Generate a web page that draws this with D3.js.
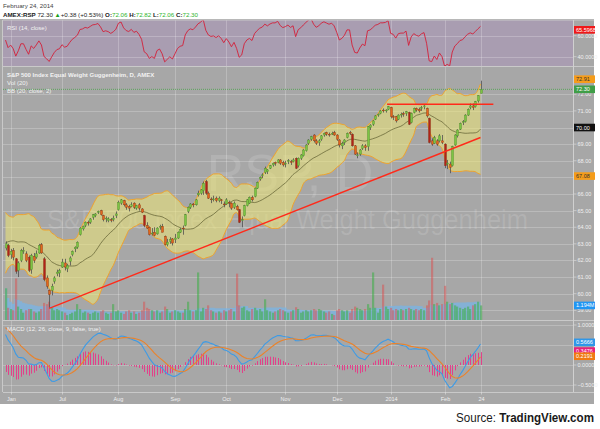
<!DOCTYPE html>
<html><head><meta charset="utf-8">
<script src="https://cdn.jsdelivr.net/npm/d3@7"></script>
<style>body{margin:0;background:#fff}svg{display:block;font-family:"Liberation Sans",Arial,sans-serif}</style>
</head><body><svg id="c" width="600" height="429"></svg>
<script>
// ---------- DATA ----------
// history before the visible range (needed for indicator warm-up only)
const priorCloses=[59.6,59.5,59.8,59.4,59.5,58.9,59.0,58.7,59.1,59.3,59.9,60.1,59.9,58.5,59.2,58.5,58.2,58.7,59.0,59.6,59.7,60.0,60.0,60.4,60.7,60.2,60.9,61.7,61.9,62.2,62.5,62.4,62.7,62.8,63.5,63.9,63.6,64.2,64.3,64.4,63.7,63.5,63.5,63.7,62.75];
const opens=[62.75,62.9,62.35,62.6,62.1,61.4,62.0,62.55,62.4,62.2,61.45,62.25,62.2,62.45,62.95,62.1,60.95,60.2,60.2,60.75,61.2,61.25,61.6,61.85,61.5,61.95,62.35,62.7,62.8,63.55,63.9,64.1,64.3,64.3,64.6,64.7,64.9,65.0,64.7,64.5,64.4,64.45,64.45,64.7,65.05,65.45,65.6,65.35,65.25,65.25,65.45,65.15,65.35,65.1,64.7,64.1,64.0,63.6,63.7,63.6,64.05,64.05,63.45,62.95,63.15,63.3,63.25,63.35,63.7,63.95,64.1,64.95,65.2,65.4,65.35,65.95,66.05,66.2,66.75,66.05,65.7,65.65,65.75,65.6,65.65,65.4,65.4,65.5,65.45,65.2,65.25,65.05,64.4,64.7,65.3,65.45,65.8,65.85,66.35,66.9,67.1,67.3,67.35,67.55,67.75,67.9,67.9,68.05,67.9,67.85,67.95,67.95,67.95,68.15,67.7,68.15,68.3,68.6,69.05,69.3,69.55,69.2,69.1,69.3,69.55,69.7,69.6,69.6,69.7,69.55,69.25,68.9,69.1,69.4,69.7,69.6,68.9,68.35,68.4,68.75,68.9,68.85,70.0,70.2,70.5,70.75,70.85,71.05,71.0,71.1,71.2,70.65,70.65,70.5,70.75,70.85,70.85,70.9,70.3,70.9,71.15,71.1,71.15,71.25,71.15,70.55,69.2,69.05,69.2,69.2,69.2,69.0,67.8,67.8,67.7,68.95,69.5,69.9,70.3,70.35,70.75,71.2,71.3,71.25,71.6,72.06];
const highs=[63.15,63.0,62.7,62.75,62.15,61.95,62.7,62.8,62.55,62.3,62.4,62.45,62.6,63.0,63.05,62.2,61.1,60.25,60.6,61.05,61.45,61.5,62.1,62.1,61.8,62.25,62.6,62.85,63.15,64.0,64.1,64.35,64.4,64.55,64.8,64.85,65.0,65.05,64.75,64.65,64.6,64.55,64.7,64.95,65.6,65.7,65.65,65.45,65.35,65.5,65.5,65.35,65.45,65.15,64.75,64.3,64.05,63.95,64.0,64.0,64.15,64.2,63.5,63.3,63.4,63.35,63.6,63.75,63.95,64.1,64.8,65.25,65.45,65.45,65.7,66.2,66.3,66.75,66.85,66.15,65.8,65.9,65.85,65.85,65.7,65.55,65.75,65.6,65.5,65.55,65.35,65.1,64.65,65.35,65.7,65.85,65.9,66.4,66.75,67.05,67.25,67.65,67.5,67.75,67.9,67.95,68.1,68.1,68.0,68.0,68.1,68.05,68.15,68.2,68.2,68.4,68.7,69.0,69.3,69.5,69.6,69.3,69.3,69.55,69.7,69.75,69.7,69.75,69.8,69.6,69.3,69.15,69.3,69.7,69.8,69.65,68.95,68.5,68.7,69.0,69.0,70.1,70.2,70.45,70.75,70.85,71.05,71.15,71.1,71.3,71.25,70.75,70.7,70.8,70.9,70.95,71.0,70.95,70.9,71.2,71.2,71.2,71.3,71.35,71.2,70.6,69.35,69.5,69.3,69.6,69.55,69.05,68.05,67.95,68.9,69.6,69.9,70.3,70.45,70.8,71.15,71.45,71.45,71.6,71.95,72.82];
const lows=[62.6,62.2,62.1,62.0,61.2,61.0,61.9,62.4,61.9,61.3,61.2,61.85,62.1,62.4,62.4,60.75,60.3,59.15,59.9,60.6,61.05,61.0,61.55,61.4,61.3,61.7,62.25,62.5,62.7,63.5,63.8,64.0,64.1,64.2,64.45,64.6,64.8,64.7,64.35,64.3,64.3,64.3,64.35,64.55,65.0,65.35,65.25,65.05,64.95,65.2,65.1,65.05,65.0,64.85,64.0,63.9,63.5,63.5,63.45,63.55,63.85,63.7,62.9,62.85,63.0,62.9,63.05,63.3,63.65,63.55,64.05,64.85,65.1,65.2,65.3,65.85,65.95,65.95,65.95,65.7,65.45,65.55,65.5,65.5,65.4,65.2,65.35,65.2,65.05,65.1,65.0,64.25,64.0,64.65,65.25,65.4,65.55,65.8,66.3,66.8,66.95,67.2,67.2,67.5,67.65,67.7,67.85,67.75,67.65,67.6,67.8,67.75,67.9,67.5,67.6,68.05,68.25,68.55,68.95,69.2,69.1,68.95,68.9,69.2,69.45,69.5,69.45,69.55,69.5,69.2,68.8,68.7,68.95,69.35,69.55,68.85,68.35,68.15,68.3,68.65,68.6,68.6,69.85,70.1,70.45,70.65,70.8,70.9,70.9,71.05,70.55,70.45,70.3,70.45,70.6,70.65,70.7,70.15,70.25,70.85,70.95,70.9,71.0,71.1,70.6,69.05,68.9,69.0,68.9,69.1,69.0,67.55,67.5,67.25,67.65,68.9,69.4,69.85,70.15,70.3,70.7,71.1,71.05,71.2,71.5,72.06];
const closes=[63.0,62.3,62.55,62.2,61.35,61.85,62.6,62.6,62.0,61.4,62.3,62.0,62.4,62.9,62.45,60.85,60.45,59.95,60.45,60.95,61.3,61.4,61.9,61.6,61.7,62.15,62.55,62.8,63.1,63.95,64.05,64.3,64.25,64.5,64.75,64.8,64.95,64.75,64.45,64.55,64.5,64.4,64.55,64.8,65.5,65.65,65.35,65.2,65.15,65.35,65.2,65.3,65.15,64.9,64.1,63.95,63.55,63.65,63.5,63.95,64.05,63.7,62.95,63.1,63.25,63.05,63.35,63.7,63.85,63.9,64.75,65.2,65.4,65.35,65.65,66.05,66.25,66.65,66.05,65.75,65.65,65.7,65.6,65.75,65.6,65.35,65.65,65.45,65.15,65.45,65.05,64.3,64.45,65.3,65.65,65.8,65.65,66.35,66.7,67.0,67.15,67.55,67.45,67.7,67.85,67.85,68.05,67.85,67.75,67.85,68.0,67.9,68.05,67.55,68.15,68.35,68.65,68.95,69.25,69.45,69.2,69.05,69.2,69.5,69.65,69.6,69.55,69.65,69.55,69.3,68.95,69.05,69.25,69.65,69.65,68.9,68.4,68.35,68.65,68.9,68.8,70.05,70.15,70.4,70.7,70.8,71.0,71.0,71.05,71.25,70.65,70.6,70.4,70.75,70.8,70.8,70.95,70.2,70.85,71.15,71.05,71.0,71.2,71.3,70.7,69.1,69.0,69.4,69.0,69.5,69.1,67.7,67.85,67.6,68.85,69.55,69.85,70.25,70.35,70.75,71.1,71.3,71.2,71.55,71.92,72.3];
// volume in millions
const volumes=[2.6,1.0,0.9,0.8,3.4,1.1,0.9,0.6,0.8,0.9,0.9,0.7,0.6,0.7,0.9,1.4,1.3,1.5,1.0,0.8,0.9,0.8,0.7,0.6,0.4,0.5,0.6,0.7,1.3,0.9,0.6,0.7,0.6,0.5,0.6,0.7,0.6,0.7,0.8,0.6,0.5,0.6,1.3,0.7,0.8,0.6,0.5,0.7,0.8,0.6,0.7,0.5,0.6,0.8,1.5,1.0,0.9,0.8,0.7,0.8,0.6,0.7,1.1,0.9,0.6,0.7,0.8,0.7,0.6,0.6,0.9,1.5,0.8,0.7,0.8,3.9,0.7,1.0,0.9,1.2,0.8,0.7,0.6,0.7,0.6,0.8,0.7,0.8,0.9,0.7,3.8,1.2,1.0,1.1,0.8,0.7,0.9,1.0,0.8,0.9,0.7,1.7,0.8,0.7,0.6,0.7,0.8,0.9,0.8,0.7,0.6,0.7,0.8,1.05,0.9,0.6,0.7,0.8,0.7,0.8,0.9,0.8,0.9,0.8,0.7,0.6,0.7,0.5,0.4,0.8,0.9,0.8,0.7,0.8,0.6,0.9,1.1,1.0,0.9,0.8,0.9,1.3,1.0,3.9,1.0,0.6,0.9,2.9,1.1,0.9,1.0,0.8,0.9,0.8,0.9,0.8,0.9,1.0,0.9,0.8,0.9,0.8,0.9,0.8,1.2,1.6,5.1,1.3,1.4,1.2,1.3,2.8,1.5,1.3,1.4,1.2,1.1,1.0,0.9,1.0,1.1,0.9,1.2,1.3,1.5,1.194];
const monthTicks=[2,22,44,66,86,109,129,150,171,185];
const monthLabels=["Jan","Jul","Aug","Sep","Oct","Nov","Dec","2014","Feb","24"];
const priceTicks=[59,60,61,62,63,64,65,66,67,68,69,70,71,72];
const rsiTicks=[60,40];
const macdTicks=[1,0.5,0,-0.5];
const trendDiagonal=[[17,59.12],[185,69.4]];
const trendHorizontal=[[148.6,71.4],[190,71.4]];
const priceBadges=[{v:72.91,t:"72.91",bg:"#f59c1a",fg:"#333"},{v:72.30,t:"72.30",bg:"#3f9e47",fg:"#fff"},{v:70.0,t:"70.00",bg:"#111",fg:"#fff"},{v:67.08,t:"67.08",bg:"#f59c1a",fg:"#333"}];
const volBadge={v:1.194,t:"1.194M",bg:"#2196f3",fg:"#fff"};
const rsiBadge={v:65.5968,t:"65.5968",bg:"#f01818",fg:"#fff"};
const macdBadges=[{v:0.5666,t:"0.5666",bg:"#2f97e8",fg:"#fff"},{v:0.3476,t:"0.3476",bg:"#e8207a",fg:"#fff"},{v:0.2191,t:"0.2191",bg:"#f07a12",fg:"#fff"}];

// ---------- INDICATORS ----------
const P=priorCloses.length, all=priorCloses.concat(closes);
function ema(a,n){const k=2/(n+1);let e;return a.map((v,i)=>e=(i===0?v:v*k+e*(1-k)));}
const e12=ema(all,12),e26=ema(all,26),macdAll=e12.map((v,i)=>v-e26[i]),sigAll=ema(macdAll,9);
const macd=macdAll.slice(P),signal=sigAll.slice(P),hist=macd.map((v,i)=>v-signal[i]);
const rsiAll=[];{let ag=0,al=0;for(let i=1;i<all.length;i++){const ch=all[i]-all[i-1],g=Math.max(ch,0),l=Math.max(-ch,0);if(i<=14){ag+=g/14;al+=l/14;}else{ag=(ag*13+g)/14;al=(al*13+l)/14;}rsiAll[i]=100-100/(1+ag/al);}}
const rsi=rsiAll.slice(P);
const bb=closes.map((c,i)=>{const w=all.slice(P+i-19,P+i+1),m=d3.mean(w),sd=Math.sqrt(d3.mean(w,v=>(v-m)*(v-m)));return{i,m,u:m+2*sd,l:m-2*sd};});
const volMA=volumes.map((v,i)=>d3.mean(volumes.slice(Math.max(0,i-19),i+1)));

// ---------- LAYOUT ----------
const svg=d3.select("#c");
const L=3,R=573.5,AX=594;
const rsiTop=20,rsiBot=66,mainTop=67,mainBot=320,macdTop=321,macdBot=392,axBot=404;
const x=d3.scaleLinear().domain([0,185]).range([5.5,480.5]);
const y=d3.scaleLinear().domain([60,72]).range([293.7,94.3]);
const yr=d3.scaleLinear().domain([40,60]).range([56.7,35.7]);
const ym=d3.scaleLinear().domain([-0.5,1]).range([385,325]);
const yv=d3.scaleLinear().domain([0,1]).range([320,307.8]);

svg.append("rect").attr("x",0).attr("y",19).attr("width",AX).attr("height",axBot-19).attr("fill","#a7a7a7");
svg.append("rect").attr("x",L).attr("y",rsiTop).attr("width",R-L).attr("height",rsiBot-rsiTop).attr("fill","#a99db1");
const defs=svg.append("defs");
[["cr",rsiTop,rsiBot],["cm",mainTop,mainBot],["cd",macdTop,macdBot]].forEach(([id,t,b])=>defs.append("clipPath").attr("id",id).append("rect").attr("x",L).attr("y",t).attr("width",R-L).attr("height",b-t));
const gR=svg.append("g").attr("clip-path","url(#cr)"),gM=svg.append("g").attr("clip-path","url(#cm)"),gD=svg.append("g").attr("clip-path","url(#cd)");
const grid="rgba(255,255,255,0.22)";
[gR,gM,gD].forEach(g=>g.selectAll(null).data(monthTicks).join("line").attr("x1",d=>Math.round(x(d))+0.5).attr("x2",d=>Math.round(x(d))+0.5).attr("y1",0).attr("y2",420).attr("stroke",grid));
gR.selectAll(null).data(rsiTicks).join("line").attr("x1",L).attr("x2",R).attr("y1",d=>Math.round(yr(d))+0.5).attr("y2",d=>Math.round(yr(d))+0.5).attr("stroke",grid);
gM.selectAll(null).data(priceTicks).join("line").attr("x1",L).attr("x2",R).attr("y1",d=>Math.round(y(d))+0.5).attr("y2",d=>Math.round(y(d))+0.5).attr("stroke",grid);
gD.selectAll(null).data(macdTicks).join("line").attr("x1",L).attr("x2",R).attr("y1",d=>Math.round(ym(d))+0.5).attr("y2",d=>Math.round(ym(d))+0.5).attr("stroke",grid);
[rsiTop,rsiBot+0.5,mainBot+0.5,macdBot+0.5].forEach(v=>svg.append("line").attr("x1",L).attr("x2",AX).attr("y1",v).attr("y2",v).attr("stroke","#c9c9c9"));
svg.append("line").attr("x1",R).attr("x2",R).attr("y1",rsiTop).attr("y2",macdBot).attr("stroke","#d0d0d0");
svg.append("line").attr("x1",L-0.5).attr("x2",L-0.5).attr("y1",rsiTop).attr("y2",macdBot).attr("stroke","#c9c9c9");

// watermark
gM.append("text").attr("x",290).attr("y",191).attr("text-anchor","middle").attr("font-size",52).attr("fill","rgba(255,255,255,0.13)").text("RSP, D");
gM.append("text").attr("x",47).attr("y",229).attr("font-size",27).attr("textLength",481).attr("lengthAdjust","spacingAndGlyphs").attr("fill","rgba(255,255,255,0.13)").text("S&P 500 Index Equal Weight Guggenheim");

// volume
gM.append("path").datum(volMA).attr("fill","rgba(120,180,230,0.75)").attr("d",d3.area().x((d,i)=>x(i)).y0(320).y1(d=>yv(d)).curve(d3.curveStep));
gM.selectAll(null).data(volumes).join("rect").attr("x",(d,i)=>Math.round(x(i))-1).attr("width",2.2).attr("y",d=>yv(d)).attr("height",d=>320-yv(d))
 .attr("fill",(d,i)=>closes[i]>=opens[i]?"rgba(60,175,70,0.55)":"rgba(220,80,80,0.5)");

// Bollinger
gM.append("path").datum(bb).attr("fill","rgba(238,232,118,0.55)").attr("d",d3.area().x(d=>x(d.i)).y0(d=>y(d.l)).y1(d=>y(d.u)).curve(d3.curveMonotoneX));
["u","l"].forEach(k=>gM.append("path").datum(bb).attr("fill","none").attr("stroke","#f0a32c").attr("stroke-width",1).attr("d",d3.line().x(d=>x(d.i)).y(d=>y(d[k])).curve(d3.curveMonotoneX)));
gM.append("path").datum(bb).attr("fill","none").attr("stroke","#6b6a3a").attr("stroke-width",0.8).attr("d",d3.line().x(d=>x(d.i)).y(d=>y(d.m)).curve(d3.curveMonotoneX));

// candles
const cg=gM.selectAll(null).data(closes).join("g");
cg.append("line").attr("x1",(d,i)=>Math.round(x(i))+0.5).attr("x2",(d,i)=>Math.round(x(i))+0.5).attr("y1",(d,i)=>y(highs[i])).attr("y2",(d,i)=>y(lows[i])).attr("stroke","#505050").attr("stroke-width",0.8);
cg.append("rect").attr("x",(d,i)=>Math.round(x(i))-0.5).attr("width",2).attr("y",(d,i)=>y(Math.max(opens[i],d))).attr("height",(d,i)=>Math.max(0.8,Math.abs(y(opens[i])-y(d))))
 .attr("fill",(d,i)=>d>=opens[i]?"#7cc443":(opens[i]-d>0.6?"#b0221a":"#e4661c")).attr("stroke",(d,i)=>d>=opens[i]?"#4f8a2a":"#8a3410").attr("stroke-width",0.4);

// trend lines
[trendDiagonal,trendHorizontal].forEach(t=>gM.append("line").attr("x1",x(t[0][0])).attr("y1",y(t[0][1])).attr("x2",x(t[1][0])).attr("y2",y(t[1][1])).attr("stroke","#ff2a1a").attr("stroke-width",1.4));
gM.append("line").attr("x1",L).attr("x2",R).attr("y1",y(closes[185])).attr("y2",y(closes[185])).attr("stroke","#46a546").attr("stroke-dasharray","1,1").attr("stroke-width",0.8);

// RSI
gR.append("path").datum(rsi).attr("fill","none").attr("stroke","#d4203a").attr("stroke-width",0.9).attr("d",d3.line().x((d,i)=>x(i)).y(d=>yr(d)));
// MACD
gD.selectAll(null).data(hist).join("line").attr("x1",(d,i)=>Math.round(x(i))+0.5).attr("x2",(d,i)=>Math.round(x(i))+0.5).attr("y1",ym(0)).attr("y2",d=>ym(d)).attr("stroke","#e2418a").attr("stroke-width",1);
gD.append("path").datum(macd).attr("fill","none").attr("stroke","#3d9be6").attr("stroke-width",1.1).attr("d",d3.line().x((d,i)=>x(i)).y(d=>ym(d)));
gD.append("path").datum(signal).attr("fill","none").attr("stroke","#ec8228").attr("stroke-width",1.1).attr("d",d3.line().x((d,i)=>x(i)).y(d=>ym(d)));

// panel titles
const tcol="#f2f2f2";
svg.append("text").attr("x",7).attr("y",30).attr("font-size",6).attr("fill",tcol).text("RSI (14, close)");
svg.append("text").attr("x",7).attr("y",76.5).attr("font-size",6).attr("font-weight","bold").attr("fill",tcol).text("S&P 500 Index Equal Weight Guggenheim, D, AMEX");
svg.append("text").attr("x",7).attr("y",84.5).attr("font-size",6).attr("fill",tcol).text("Vol (20)");
svg.append("text").attr("x",7).attr("y",92.5).attr("font-size",6).attr("fill",tcol).text("BB (20, close, 2)");
svg.append("text").attr("x",7).attr("y",331).attr("font-size",6).attr("fill",tcol).text("MACD (12, 26, close, 9, false, true)");

// right axes
function axisLabels(vals,scale,fmt){vals.forEach(v=>{const yy=scale(v);svg.append("line").attr("x1",R).attr("x2",R+3).attr("y1",yy).attr("y2",yy).attr("stroke","#e0e0e0").attr("stroke-width",0.6);svg.append("text").attr("x",R+4).attr("y",yy+2).attr("font-size",5.5).attr("fill","#f0f0f0").text(fmt(v));});}
axisLabels(rsiTicks,yr,d3.format(".4f"));
axisLabels(priceTicks,y,d3.format(".2f"));
axisLabels(macdTicks.filter(v=>v!==0.5),ym,d3.format(".4f"));
function badge(b,scale){const yy=scale(b.v);svg.append("rect").attr("x",R+0.5).attr("y",yy-3.8).attr("width",21).attr("height",7.6).attr("fill",b.bg);svg.append("text").attr("x",R+2.5).attr("y",yy+2).attr("font-size",5.5).attr("fill",b.fg).text(b.t);}
badge(rsiBadge,yr);
priceBadges.forEach(b=>badge(b,y));
badge(volBadge,yv);
macdBadges.forEach(b=>badge(b,ym));

// x axis
monthTicks.forEach((m,k)=>{const xx=Math.round(x(m))+0.5;svg.append("line").attr("x1",xx).attr("x2",xx).attr("y1",macdBot).attr("y2",macdBot+2.5).attr("stroke","#e0e0e0").attr("stroke-width",0.6);svg.append("text").attr("x",xx).attr("y",400.5).attr("text-anchor","middle").attr("font-size",5.5).attr("fill","#f0f0f0").text(monthLabels[k]);});

// header
svg.append("text").attr("x",3).attr("y",8).attr("font-size",6.2).attr("fill","#444").text("February 24, 2014");
const h=svg.append("text").attr("x",3).attr("y",17).attr("font-size",6.2).attr("fill","#222");
[["AMEX:RSP","bold","#222"],[" 72.30 ","normal","#222"],["▲","normal","#1aa01a"],["+0.38 (+0.53%) ","normal","#222"],["O:","bold","#222"],["72.06","normal","#2cb52c"],[" H:","bold","#222"],["72.82","normal","#2cb52c"],[" L:","bold","#222"],["72.06","normal","#2cb52c"],[" C:","bold","#222"],["72.30","normal","#2cb52c"]].forEach(([t,w,c])=>h.append("tspan").attr("font-weight",w).attr("fill",c).text(t));

// source
const s=svg.append("text").attr("x",456).attr("y",422).attr("font-size",12.5).attr("textLength",138).attr("lengthAdjust","spacingAndGlyphs").attr("fill","#1a1a1a");
s.append("tspan").text("Source: ");
s.append("tspan").attr("font-weight","bold").text("TradingView.com");
</script></body></html>
